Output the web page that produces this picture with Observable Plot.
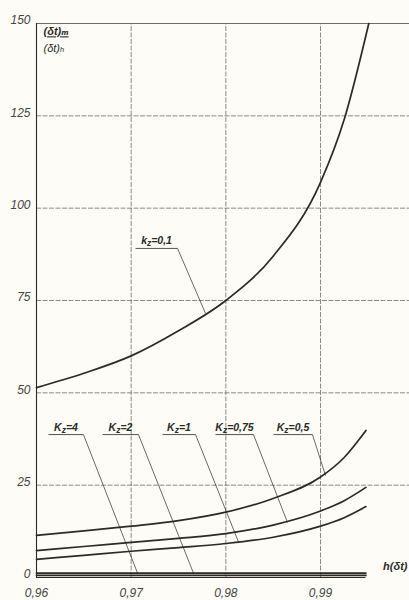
<!DOCTYPE html>
<html>
<head>
<meta charset="utf-8">
<script src="https://cdn.jsdelivr.net/npm/d3@7"></script>
<script src="https://cdn.jsdelivr.net/npm/@observablehq/plot@0.6"></script>
<style>
  html, body { margin: 0; padding: 0; background: #fdfcf6; }
  #chart svg { display: block; }
</style>
</head>
<body>
<div id="chart"></div>
<script>
// ---- data ----
const xTicks = [0.96, 0.97, 0.98, 0.99];
const xTickLabels = ["0,96", "0,97", "0,98", "0,99"];
const yTicks = [0, 25, 50, 75, 100, 125, 150];
const yTickLabels = ["0", "25", "50", "75", "100", "125", "150"];

const hK01 = [0.96, 0.965, 0.97, 0.975, 0.98, 0.985, 0.99, 0.9925, 0.9951];
const vK01 = [51.4, 55.3, 60, 66.8, 75, 87, 107, 124, 150];

const hK = [0.96, 0.965, 0.97, 0.975, 0.98, 0.985, 0.99, 0.9925, 0.9948];
const vK05 = [11.4, 12.6, 13.9, 15.4, 17.7, 21.4, 27.2, 32.5, 39.8];
const vK075 = [7.3, 8.4, 9.5, 10.6, 11.9, 14.2, 18.0, 20.8, 24.4];
const vK1 = [4.9, 6.0, 7.1, 8.1, 9.2, 10.9, 13.9, 16.2, 19.2];
const hFlat = [0.96, 0.9948];
const vK2 = [1.2, 1.2];
const vK4 = [0.55, 0.55];

// annotation labels: text, underline start/end (h), underline level, leader end (h, value)
const labelText = ["K_z=4", "K_z=2", "K_z=1", "K_z=0,75", "K_z=0,5", "k_z=0,1"];
const labelX1 = [0.96127, 0.96697, 0.97331, 0.97891, 0.98503, 0.97046];
const labelX2 = [0.96496, 0.97077, 0.97680, 0.98292, 0.98915, 0.97490];
const labelY = [38.7, 38.7, 38.7, 38.7, 38.7, 89.1];
const leaderX = [0.97067, 0.97658, 0.98134, 0.98651, 0.99053, 0.97785];
const leaderY = [1.2, 1.2, 9.6, 14.9, 27.6, 71.5];

// ---- tables ----
const series = [
  ...hK01.map((h, i) => ({h, v: vK01[i], k: "0,1"})),
  ...hK.map((h, i) => ({h, v: vK05[i], k: "0,5"})),
  ...hK.map((h, i) => ({h, v: vK075[i], k: "0,75"})),
  ...hK.map((h, i) => ({h, v: vK1[i], k: "1"})),
  ...hFlat.map((h, i) => ({h, v: vK2[i], k: "2"})),
  ...hFlat.map((h, i) => ({h, v: vK4[i], k: "4"}))
];
const labels = labelText.map((t, i) => ({
  t, x1: labelX1[i], x2: labelX2[i], y: labelY[i], lx: leaderX[i], ly: leaderY[i],
  xm: (labelX1[i] + labelX2[i]) / 2
}));

const ink = "#2b2a26";
const gridInk = "#6e6d66";
const font = "'Liberation Sans', 'DejaVu Sans', sans-serif";

const chart = Plot.plot({
  width: 409,
  height: 600,
  marginLeft: 36,
  marginRight: 0,
  marginTop: 23,
  marginBottom: 23,
  x: {domain: [0.96, 0.9994]},
  y: {domain: [0, 150]},
  style: {background: "#fdfcf6", fontFamily: font, fontStyle: "italic", color: ink},
  marks: [
    // grid
    Plot.ruleX(xTicks.slice(1), {y1: 0, y2: 150, stroke: gridInk, strokeWidth: 0.8, strokeDasharray: "5,1.5"}),
    Plot.ruleY(yTicks.slice(1, -1), {stroke: gridInk, strokeWidth: 0.8, strokeDasharray: "5,1.5"}),
    Plot.ruleY([150], {stroke: gridInk, strokeWidth: 1}),
    Plot.ruleX([0.96], {y1: 0, y2: 150, stroke: ink, strokeWidth: 1.1}),
    Plot.ruleY([0], {x1: 0.96, x2: 0.9948, stroke: ink, strokeWidth: 1.1}),
    // curves
    Plot.line(series, {x: "h", y: "v", z: "k", stroke: ink, strokeWidth: 1.7, curve: "monotone-x"}),
    // leaders and underlines
    Plot.link(labels, {x1: "x2", y1: "y", x2: "lx", y2: "ly", stroke: ink, strokeWidth: 0.7}),
    Plot.link(labels, {x1: "x1", y1: "y", x2: "x2", y2: "y", stroke: ink, strokeWidth: 0.8}),
    Plot.text(labels, {x: "xm", y: "y", text: "t", lineAnchor: "bottom", dy: -4, fontSize: 10.5, fontWeight: "bold", fill: ink}),
    // axes
    Plot.axisX(xTicks, {tickSize: 0, tickPadding: 11, tickFormat: (d, i) => xTickLabels[i], fontSize: 12, fill: "#444"}),
    Plot.axisY(yTicks, {tickSize: 0, tickPadding: 6, dy: -3, tickFormat: (d, i) => yTickLabels[i], fontSize: 12, fill: "#444"}),
    // axis titles
    Plot.text(["(δt)ₘ"], {frameAnchor: "top-left", dx: 7, dy: 4, fontSize: 11, fontWeight: "bold", fill: ink}),
    Plot.text(["(δt)ₕ"], {frameAnchor: "top-left", dx: 7, dy: 21, fontSize: 11, fill: ink}),
    Plot.text(["h(δt)"], {frameAnchor: "bottom-right", dx: -2, dy: -8, fontSize: 11, fontWeight: "bold", fill: ink})
  ]
});

// turn "_z" into a real subscript
const ns = "http://www.w3.org/2000/svg";
chart.querySelectorAll("text").forEach(t => {
  const s = t.textContent;
  if (s.includes("_z")) {
    const [a, b] = s.split("_z");
    t.textContent = "";
    const t1 = document.createElementNS(ns, "tspan"); t1.textContent = a;
    const t2 = document.createElementNS(ns, "tspan"); t2.textContent = "z";
    t2.setAttribute("dy", "2"); t2.setAttribute("style", "font-size:8.5px");
    const t3 = document.createElementNS(ns, "tspan"); t3.textContent = b;
    t3.setAttribute("dy", "-2");
    t.append(t1, t2, t3);
  }
  if (s === "(δt)ₘ") t.setAttribute("text-decoration", "underline");
});

document.getElementById("chart").append(chart);
</script>
</body>
</html>
